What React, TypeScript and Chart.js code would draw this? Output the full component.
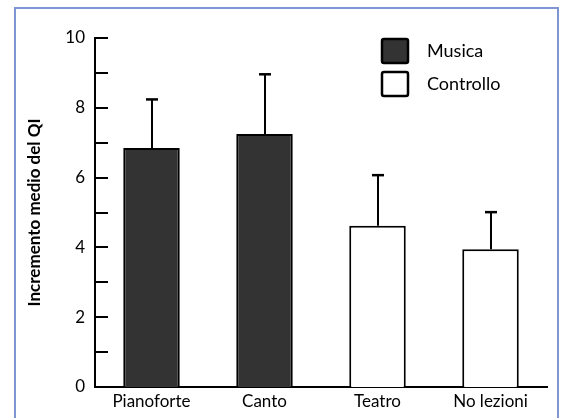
import React, { useEffect, useRef } from "react";
import { Chart, registerables } from "chart.js";

Chart.register(...registerables);

const categories = ["Pianoforte", "Canto", "Teatro", "No lezioni"];
const seriesNames = ["Musica", "Controllo"];
const musica = [6.85, 7.25, null, null];
const controllo = [null, null, 4.62, 3.95];
const errors = [1.39, 1.71, 1.45, 1.06];
const yLabelled = [0, 2, 4, 6, 8, 10];
const yTitle = "Incremento medio del QI";

const FONT = "Lato";
const MUSICA_COLOR = "#333333";
const CONTROLLO_COLOR = "#ffffff";

const decorations = {
  id: "decorations",
  afterDatasetsDraw(chart: any) {
    const { ctx, scales, chartArea } = chart;
    const x = scales.x;
    const y = scales.y;
    ctx.save();
    ctx.strokeStyle = "#000";
    ctx.lineCap = "butt";

    // inward ticks on y axis
    ctx.lineWidth = 2;
    for (let v = y.min; v <= y.max; v += 1) {
      const py = Math.round(y.getPixelForValue(v));
      ctx.beginPath();
      ctx.moveTo(chartArea.left, py);
      ctx.lineTo(chartArea.left + 13, py);
      ctx.stroke();
    }

    // error bars (upper only)
    categories.forEach((_, i) => {
      const val = musica[i] != null ? musica[i] : controllo[i];
      if (val == null) return;
      const px = Math.round(x.getPixelForValue(i));
      const base = y.getPixelForValue(val as number);
      const top = y.getPixelForValue((val as number) + errors[i]);
      ctx.lineWidth = 2;
      ctx.beginPath();
      ctx.moveTo(px, base);
      ctx.lineTo(px, top);
      ctx.stroke();
      ctx.lineWidth = 2.5;
      ctx.beginPath();
      ctx.moveTo(px - 6, top);
      ctx.lineTo(px + 6, top);
      ctx.stroke();
    });

    // legend
    const fills = [MUSICA_COLOR, CONTROLLO_COLOR];
    const lx = chartArea.right - 165;
    seriesNames.forEach((name, i) => {
      const ty = chartArea.top + 1 + i * 33;
      ctx.lineWidth = 2.5;
      ctx.fillStyle = fills[i];
      ctx.beginPath();
      (ctx as any).roundRect(lx, ty, 26, 24, 2);
      ctx.fill();
      ctx.stroke();
      ctx.fillStyle = "#000";
      ctx.font = `18px ${FONT}`;
      ctx.textBaseline = "middle";
      ctx.textAlign = "left";
      ctx.fillText(name, lx + 45, ty + 12);
    });
    ctx.restore();
  },
};

export default function App() {
  const ref = useRef<HTMLCanvasElement | null>(null);

  useEffect(() => {
    if (!ref.current) return;
    const chart = new Chart(ref.current, {
      type: "bar",
      data: {
        labels: categories,
        datasets: [
          {
            label: seriesNames[0],
            data: musica as any,
            backgroundColor: MUSICA_COLOR,
            borderColor: "#000",
            borderWidth: 2,
            grouped: false,
            barPercentage: 0.5,
            categoryPercentage: 1,
          },
          {
            label: seriesNames[1],
            data: controllo as any,
            backgroundColor: CONTROLLO_COLOR,
            borderColor: "#000",
            borderWidth: 2,
            grouped: false,
            barPercentage: 0.5,
            categoryPercentage: 1,
          },
        ],
      },
      options: {
        responsive: false,
        animation: false,
        layout: { padding: { top: 38, right: 14, bottom: 0, left: 0 } },
        plugins: {
          legend: { display: false },
          tooltip: { enabled: false },
        },
        scales: {
          x: {
            grid: { display: false, drawTicks: false },
            border: { display: true, color: "#000", width: 2 },
            ticks: {
              color: "#000",
              font: { family: FONT, size: 17 },
              padding: 4,
            },
            afterFit: (s: any) => {
              s.height = 31;
            },
          },
          y: {
            min: 0,
            max: 10,
            grid: { display: false, drawTicks: false },
            border: { display: true, color: "#000", width: 2 },
            ticks: {
              stepSize: 1,
              color: "#000",
              font: { family: FONT, size: 17 },
              padding: 10,
              callback: (v: any) => (yLabelled.includes(Number(v)) ? String(v) : ""),
            },
            title: {
              display: true,
              text: yTitle,
              color: "#000",
              font: { family: FONT, size: 17, weight: "bold" },
              padding: { top: 24, bottom: 0 },
            },
            afterFit: (s: any) => {
              s.width = 95;
            },
          },
        },
      },
      plugins: [decorations],
    });
    return () => chart.destroy();
  }, []);

  return (
    <>
      <canvas
        ref={ref}
        width={561}
        height={418}
        style={{ position: "fixed", left: 0, top: 0, width: 561, height: 418 }}
      />
      <div
        style={{
          position: "fixed",
          left: 14,
          top: 7,
          width: 545,
          height: 430,
          border: "2px solid #7f96d2",
          boxSizing: "border-box",
          pointerEvents: "none",
        }}
      />
    </>
  );
}
